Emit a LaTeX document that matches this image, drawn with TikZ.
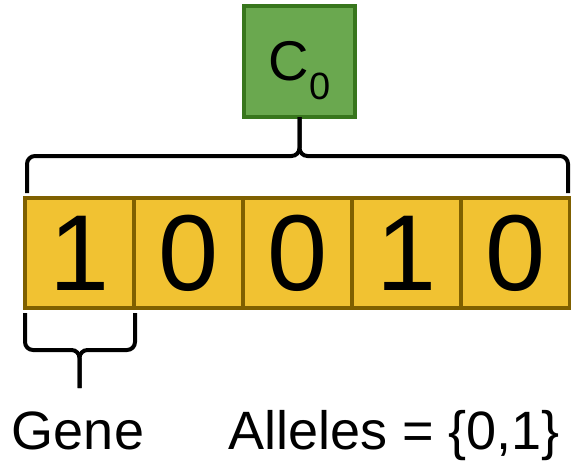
\documentclass[tikz,border=0pt]{standalone}
\usepackage{fontspec}
\setmainfont{Liberation Sans}
\usetikzlibrary{positioning, calc}
\definecolor{chromfill}{HTML}{6AA84F}
\definecolor{chromline}{HTML}{38761D}
\definecolor{genefill}{HTML}{F1C232}
\definecolor{geneline}{HTML}{7F6000}
\tikzset{
    chrom/.style={draw=chromline, fill=chromfill, line width=2pt, inner sep=0, outer sep=0, minimum size=55.5pt},
    gene/.style={draw=geneline, fill=genefill, line width=1.6pt, inner sep=0, outer sep=0, minimum width=54.5pt, minimum height=55pt, font=\fontsize{54}{54}\selectfont},
    brace/.style={draw=black, line width=2pt, rounded corners=4pt},
    label/.style={font=\fontsize{27}{27}\selectfont, anchor=base}
}

\begin{document}
\begin{tikzpicture}[x=0.5pt,y=-0.5pt]
    \useasboundingbox (0,0) rectangle (571,465);
    % chromosome
    \node[chrom] (c0) at (299.5,61.5) {\fontsize{28}{28}\selectfont C\smash{\raisebox{-9.5pt}{\fontsize{19}{19}\selectfont 0}}};
    % genes
    \node[gene] (g1) at (79.5,253) {1};
    \node[gene, right=0pt of g1] (g2) {0};
    \node[gene, right=0pt of g2] (g3) {0};
    \node[gene, right=0pt of g3] (g4) {1};
    \node[gene, right=0pt of g4] (g5) {0};
    % braces
    \coordinate (top) at (c0.south);
    \draw[brace] ($(g1.north west)+(2,-5)$) |- ($(top)+(0,39)$) -- (top);
    \draw[brace] ($(g5.north east)+(-2,-5)$) |- ($(top)+(0,39)$) -- (top);
    \coordinate (gtip) at ($(g1.south)+(0,80)$);
    \draw[brace] ($(g1.south west)+(0,5)$) |- ($(gtip)+(0,-38)$) -- (gtip);
    \draw[brace] ($(g1.south east)+(1,5)$) |- ($(gtip)+(0,-38)$) -- (gtip);
    % text
    \node[label] (gene) at (78,449) {Gene};
    \node[label] (alleles) at (394,449) {Alleles = \{0,1\}};
\end{tikzpicture}
\end{document}
